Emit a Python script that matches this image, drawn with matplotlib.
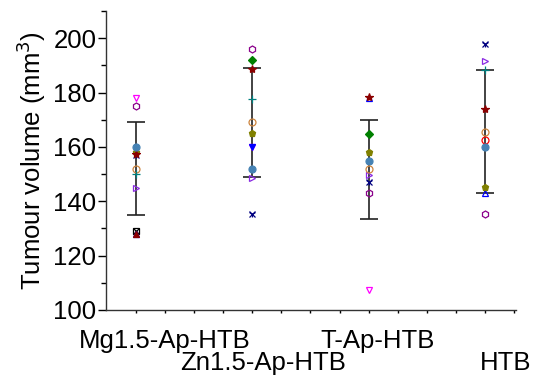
import numpy as np
import matplotlib
matplotlib.use('Agg')
from matplotlib import pyplot as plt

plt.rcParams['font.family'] = ['Liberation Sans', 'DejaVu Sans']

groups = ['Mg1.5-Ap-HTB', 'Zn1.5-Ap-HTB', 'T-Ap-HTB', 'HTB']
xpos = [1, 2, 3, 4]
nan = np.nan

# one entry per animal marker: values for the 4 groups
sq_black = [129, nan, nan, nan]
circ_red = [nan, nan, nan, 162.7]
tri_blue = [128, nan, 178, 143]
dia_green = [nan, 192, 164.7, nan]
dtri_magenta = [178, 160, 107.4, nan]
x_navy = [157, 135.2, 147, 197.8]
pent_olive = [158, 165, 158, 145.3]
star_darkred = [157.5, 188.8, 178.2, 173.9]
circ_steel = [160, 152, 155, 159.8]
rtri_violet = [145, 148.4, 149.5, 191.7]
hex_purple = [175, 196, 143, 135.2]
circ_tan = [152, 169, 151.7, 165.6]
plus_teal = [150, 177.8, nan, 188.2]
dtri_blue = [nan, 160, nan, nan]
tri_red = [128, nan, nan, nan]

means = [152.1, 169.0, 151.6, 165.6]
sds = [17.0, 20.0, 18.3, 22.6]

fig = plt.figure(figsize=(5.34, 3.81), dpi=100)
ax = fig.add_axes([0.1985, 0.1864, 0.7675, 0.7846])

ax.errorbar(xpos, means, yerr=sds, fmt='none', ecolor='#222222', elinewidth=1.2,
            capsize=6.5, capthick=1.2, zorder=1)

ms = 5
def pts(vals, marker, color, face='none', size=ms):
    ax.plot(xpos, vals, ls='none', marker=marker, markersize=size,
            markeredgecolor=color, markerfacecolor=face, markeredgewidth=0.9, zorder=3)

pts(sq_black, 's', 'black')
pts(sq_black, 'x', 'black', size=4)
pts(circ_red, 'o', 'red')
pts(tri_blue, '^', 'blue')
pts(tri_red, '^', 'darkred', face='darkred', size=4)
pts(dia_green, 'D', 'green', face='green', size=4.5)
pts(dtri_magenta, 'v', 'magenta')
pts(x_navy, 'x', 'navy')
pts(x_navy, '1', 'navy')
pts(pent_olive, 'p', 'olive', face='olive')
pts(star_darkred, '*', 'darkred', face='darkred', size=6)
pts(circ_steel, 'o', 'steelblue', face='steelblue')
pts(rtri_violet, '>', 'blueviolet')
pts(hex_purple, 'h', 'darkmagenta')
pts(circ_tan, 'o', 'peru')
pts(plus_teal, '+', 'teal', size=6)
pts(dtri_blue, 'v', 'blue', face='blue')

ax.set_xlim(0.742, 4.266)
ax.set_ylim(100, 210)
ax.set_yticks([100, 120, 140, 160, 180, 200])
ax.set_yticks(np.arange(100, 211, 10), minor=True)
ax.set_xticks(xpos)
ax.set_xticklabels([])
ax.set_xticks(np.arange(1, 4.3, 0.25), minor=True)
ax.tick_params(axis='y', which='major', length=6, width=1, labelsize=18.5, pad=1)
ax.tick_params(axis='y', which='minor', length=3.5, width=1)
ax.tick_params(axis='x', which='both', length=2, width=1)

ax.spines['top'].set_visible(False)
ax.spines['right'].set_visible(False)
for s in ['left', 'bottom']:
    ax.spines[s].set_linewidth(1)
    ax.spines[s].set_color('#333333')

ax.set_ylabel('Tumour volume (mm$^3$)', fontsize=18.5, labelpad=4)

label_x = [1.25, 2.09, 3.08, 4.18]
label_y = [-0.104, -0.177, -0.104, -0.177]
for g, lx, ly in zip(groups, label_x, label_y):
    ax.text(lx, ly, g, fontsize=18.5, ha='center', va='center',
            transform=ax.get_xaxis_transform())

fig.savefig('out.png', dpi=100)
